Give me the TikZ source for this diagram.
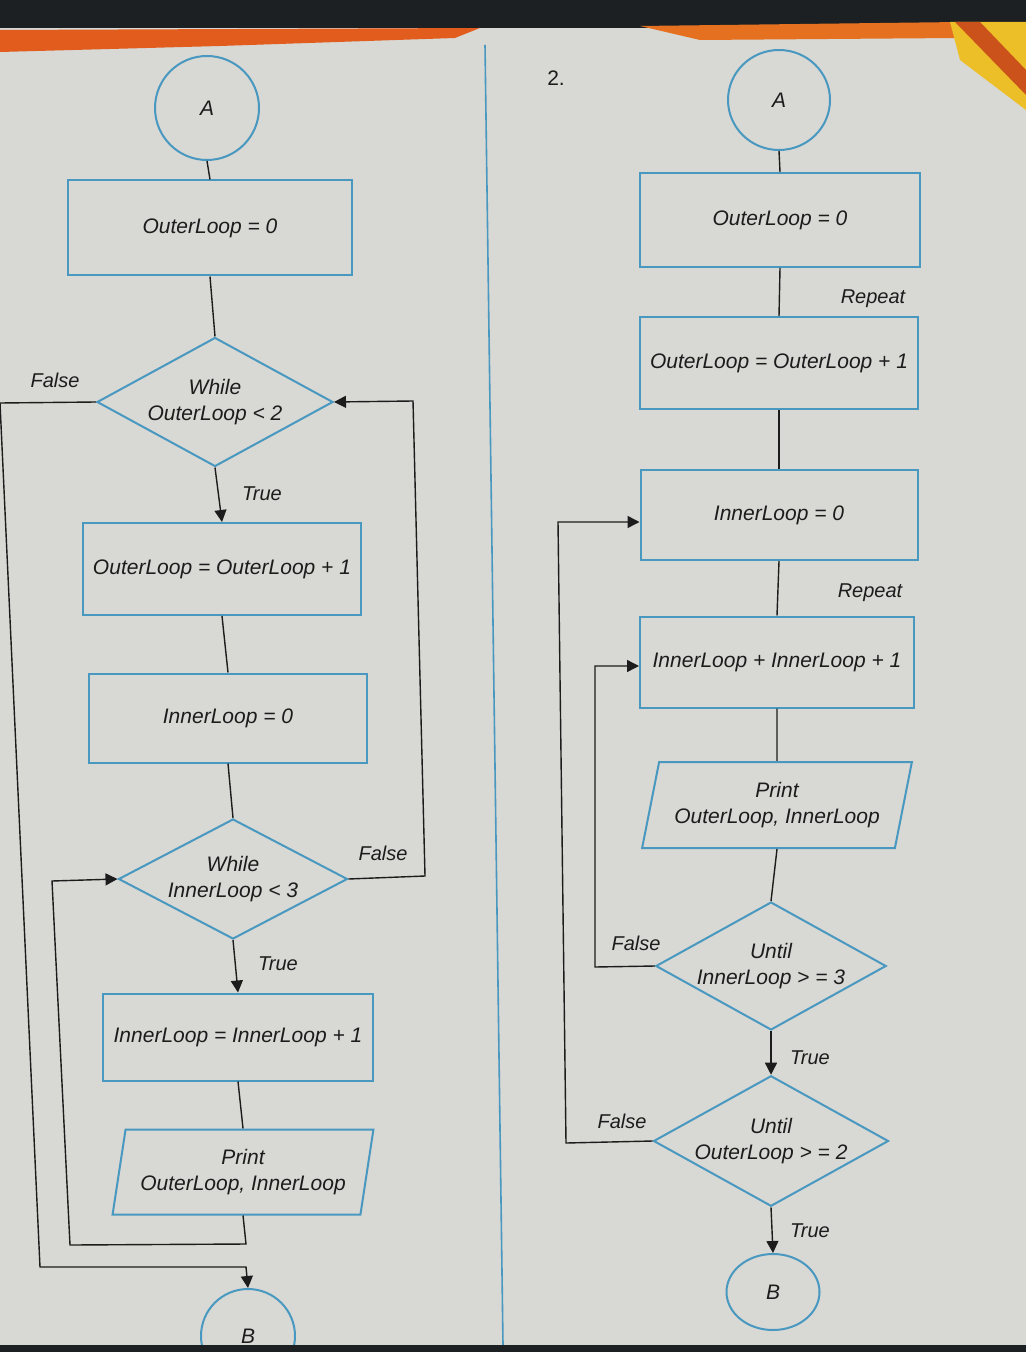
\documentclass[tikz,border=0pt]{standalone}
\usepackage{fontspec}
\setmainfont{Liberation Sans}
\usetikzlibrary{shapes.geometric,arrows.meta}
\definecolor{boxblue}{RGB}{72,152,192}
\definecolor{page}{RGB}{216,216,213}
\definecolor{ink}{RGB}{28,28,28}
\definecolor{darkband}{RGB}{28,32,35}
\definecolor{orng}{RGB}{226,92,30}
\definecolor{yell}{RGB}{236,190,40}
\tikzset{
  txt/.style={font=\itshape\fontsize{10.5}{13}\selectfont, text=ink, align=center},
  blk/.style={txt, draw=boxblue, line width=1pt, rectangle, inner sep=0pt},
  dec/.style={txt, draw=boxblue, line width=1pt, diamond, aspect=1.8, inner sep=0pt},
  io/.style={txt, draw=boxblue, line width=1pt, trapezium, trapezium stretches=true, inner sep=0pt},
  term/.style={txt, draw=boxblue, line width=1pt, ellipse, inner sep=0pt},
  conn/.style={draw=ink, line width=0.7pt},
  arr/.style={conn, -{Triangle[length=6pt,width=6pt]}},
  lbl/.style={font=\itshape\fontsize{10}{12}\selectfont, text=ink}
}
\begin{document}
\begin{tikzpicture}[x=0.5pt,y=-0.5pt]
\useasboundingbox (0,0) rectangle (1026,1352);
% background photo frame
\fill[page] (0,0) rectangle (1026,1352);
\fill[darkband] (0,0) rectangle (1026,28);
\fill[orng] (0,30) -- (480,28) -- (455,38) -- (220,46) -- (0,52) -- cycle;
\fill[orng!80!yell] (640,26) -- (960,22) -- (958,38) -- (700,40) -- cycle;
\fill[yell] (950,22) -- (1026,22) -- (1026,110) -- (960,60) -- cycle;
\fill[orng!90!black] (955,22) -- (980,22) -- (1026,70) -- (1026,95) -- cycle;
% divider
\draw[boxblue, line width=0.8pt] (485,45) -- (503,1345);
\node[font=\fontsize{10.5}{12}\selectfont, text=ink] (num) at (556,78) {2.};

% ---------------- left chart ----------------
\node[term, minimum width=52pt, minimum height=52pt] (LA) at (207,108) {A};
\node[blk, minimum width=142pt, minimum height=47.5pt] (L1) at (210,228) {OuterLoop = 0};
\node[dec, minimum width=118pt, minimum height=64.5pt] (D1) at (215,402) {While\\OuterLoop < 2};
\node[blk, minimum width=139pt, minimum height=46pt] (L2) at (222,569) {OuterLoop = OuterLoop + 1};
\node[blk, minimum width=139pt, minimum height=44.5pt] (L3) at (228,718) {InnerLoop = 0};
\node[dec, minimum width=114.5pt, minimum height=60pt] (D2) at (233,879) {While\\InnerLoop < 3};
\node[blk, minimum width=135pt, minimum height=43.5pt] (L4) at (238,1037) {InnerLoop = InnerLoop + 1};
\node[io, trapezium left angle=76, trapezium right angle=104, minimum width=130.5pt, minimum height=42.5pt] (P1) at (243,1172) {Print\\OuterLoop, InnerLoop};
\node[term, minimum width=47pt, minimum height=47pt] (LB) at (248,1336) {B};

\coordinate (c1) at (246,1244);
\coordinate (c2) at (70,1245);
\coordinate (c3) at (52,881);
\coordinate (c4) at (425,876);
\coordinate (c5) at (413,401);
\coordinate (c6) at (0,403);
\coordinate (c7) at (40,1267);
\coordinate (c8) at (246,1267);

\draw[conn] (LA.south) -- (L1.north);
\draw[conn] (L1.south) -- (D1.north);
\draw[arr] (D1.south) -- (L2.north);
\draw[conn] (L2.south) -- (L3.north);
\draw[conn] (L3.south) -- (D2.north);
\draw[arr] (D2.south) -- (L4.north);
\draw[conn] (L4.south) -- (P1.north);
\draw[arr] (P1.south) -- (c1) -- (c2) -- (c3) -- (D2.west);
\draw[arr] (D2.east) -- (c4) -- (c5) -- (D1.east);
\draw[arr] (D1.west) -- (c6) -- (c7) -- (c8) -- (LB.north);

\node[lbl] (t1) at (262,494) {True};
\node[lbl] (t2) at (278,964) {True};
\node[lbl] (f1) at (383,853) {False};
\node[lbl] (f2) at (55,380) {False};

% ---------------- right chart ----------------
\node[term, minimum width=51pt, minimum height=50pt] (RA) at (779,100) {A};
\node[blk, minimum width=140pt, minimum height=47pt] (R1) at (780,220) {OuterLoop = 0};
\node[blk, minimum width=139pt, minimum height=46pt] (R2) at (779,363) {OuterLoop = OuterLoop + 1};
\node[blk, minimum width=138.5pt, minimum height=45pt] (R3) at (779,515) {InnerLoop = 0};
\node[blk, minimum width=137pt, minimum height=45.5pt] (R4) at (777,662) {InnerLoop + InnerLoop + 1};
\node[io, trapezium left angle=72, trapezium right angle=108, minimum width=135pt, minimum height=43pt] (P2) at (777,805) {Print\\OuterLoop, InnerLoop};
\node[dec, minimum width=113.5pt, minimum height=59pt] (D3) at (771,966) {Until\\InnerLoop > = 3};
\node[dec, minimum width=111pt, minimum height=58.5pt] (D4) at (771,1141) {Until\\OuterLoop > = 2};
\node[term, minimum width=46.5pt, minimum height=38pt] (RB) at (773,1292) {B};

\coordinate (r1) at (595,967);
\coordinate (r2) at (595,666);
\coordinate (r3) at (566,1143);
\coordinate (r4) at (558,522);

\draw[conn] (RA.south) -- (R1.north);
\draw[conn] (R1.south) -- (R2.north);
\draw[conn] (R2.south) -- (R3.north);
\draw[conn] (R3.south) -- (R4.north);
\draw[conn] (R4.south) -- (P2.north);
\draw[conn] (P2.south) -- (D3.north);
\draw[arr] (D3.south) -- (D4.north);
\draw[arr] (D4.south) -- (RB.north);
\draw[arr] (D3.west) -- (r1) -- (r2) -- (R4.west |- r2);
\draw[arr] (D4.west) -- (r3) -- (r4) -- (R3.west |- r4);

\node[lbl] (rp1) at (873,299) {Repeat};
\node[lbl] (rp2) at (870,593) {Repeat};
\node[lbl] (rf1) at (636,943) {False};
\node[lbl] (rf2) at (622,1121) {False};
\node[lbl] (rt1) at (810,1058) {True};
\node[lbl] (rt2) at (810,1231) {True};

% bottom edge of the photo
\fill[darkband] (0,1345) rectangle (1026,1352);
\end{tikzpicture}
\end{document}
